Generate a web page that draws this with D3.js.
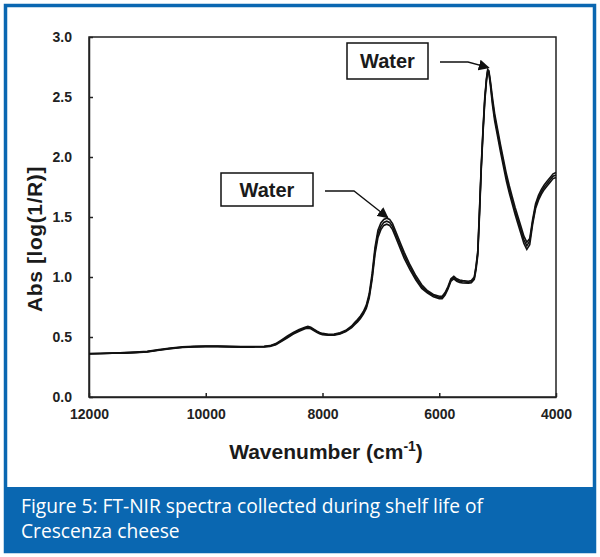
<!DOCTYPE html>
<html><head><meta charset="utf-8">
<script src="https://cdn.jsdelivr.net/npm/d3@7"></script>
<style>html,body{margin:0;padding:0;background:#fff;}svg{display:block;}</style>
</head><body>
<svg id="c" width="600" height="557"></svg>
<script>
const wavenumbers = [12000,11800,11600,11400,11200,11000,10800,10600,10400,10200,10000,9800,9600,9400,9200,9000,
 8900,8800,8700,8600,8500,8400,8300,
 8250,8200,8150,8100,8050,8000,
 7900,7800,7700,7600,7500,
 7450,7400,7350,7300,7250,7200,7150,7100,7050,7000,6950,6900,6850,6800,6750,6700,6650,6600,
 6500,6400,6300,6200,6100,6000,
 5950,5900,5850,5800,5750,5700,5650,5600,
 5500,5450,5400,
 5370,5340,5310,5280,5250,5220,5190,
 5170,5150,
 5120,5090,
 5050,5000,4950,4900,4850,4800,4750,4700,4650,4600,4550,4500,4450,4400,4350,4300,4250,4200,4150,4100,4050,4000];

const spectrumA = [0.36,0.362,0.366,0.368,0.372,0.378,0.392,0.405,0.415,0.42,0.422,0.422,0.42,0.418,0.418,0.42,
 0.425,0.44,0.47,0.5,0.53,0.555,0.575,
 0.58,0.575,0.56,0.545,0.532,0.525,
 0.518,0.52,0.53,0.55,0.585,
 0.61,0.635,0.665,0.7,0.75,0.84,1.0,1.22,1.36,1.42,1.455,1.465,1.455,1.42,1.36,1.3,1.24,1.18,
 1.08,0.99,0.92,0.875,0.845,0.83,
 0.83,0.86,0.91,0.975,0.995,0.975,0.965,0.96,
 0.955,0.96,0.99,
 1.08,1.2,1.55,1.92,2.22,2.48,2.65,
 2.72,2.71,
 2.6,2.47,
 2.33,2.2,2.07,1.95,1.83,1.73,1.64,1.55,1.47,1.39,1.31,1.26,1.3,1.46,1.59,1.66,1.71,1.75,1.78,1.81,1.84,1.85];

const spectrumB = [0.358,0.36,0.364,0.37,0.374,0.38,0.395,0.408,0.418,0.422,0.424,0.424,0.422,0.42,0.42,0.422,
 0.428,0.445,0.476,0.508,0.538,0.562,0.582,
 0.588,0.582,0.566,0.55,0.537,0.53,
 0.523,0.525,0.535,0.556,0.592,
 0.62,0.645,0.675,0.712,0.765,0.86,1.03,1.25,1.39,1.45,1.48,1.49,1.48,1.445,1.385,1.325,1.265,1.205,
 1.1,1.01,0.935,0.885,0.855,0.84,
 0.84,0.87,0.92,0.985,1.005,0.985,0.975,0.97,
 0.965,0.97,1.0,
 1.09,1.22,1.57,1.94,2.24,2.5,2.66,
 2.73,2.72,
 2.62,2.5,
 2.36,2.23,2.1,1.98,1.86,1.76,1.67,1.58,1.5,1.42,1.34,1.29,1.32,1.48,1.61,1.68,1.73,1.77,1.8,1.83,1.86,1.87];

const spectrumC = [0.362,0.364,0.366,0.366,0.37,0.376,0.39,0.402,0.412,0.418,0.42,0.42,0.418,0.416,0.416,0.418,
 0.422,0.436,0.465,0.494,0.524,0.548,0.568,
 0.574,0.568,0.554,0.54,0.528,0.52,
 0.514,0.515,0.525,0.545,0.578,
 0.602,0.626,0.655,0.69,0.738,0.825,0.98,1.19,1.33,1.395,1.43,1.44,1.43,1.395,1.335,1.275,1.215,1.155,
 1.06,0.975,0.905,0.865,0.835,0.82,
 0.82,0.85,0.9,0.965,0.985,0.965,0.955,0.95,
 0.948,0.952,0.98,
 1.06,1.18,1.52,1.9,2.2,2.46,2.64,
 2.71,2.7,
 2.58,2.44,
 2.3,2.17,2.04,1.92,1.8,1.7,1.61,1.52,1.44,1.36,1.28,1.23,1.27,1.44,1.57,1.64,1.69,1.73,1.76,1.79,1.82,1.83];

const spectra = [spectrumA, spectrumB, spectrumC];
const xTicks = [12000,10000,8000,6000,4000];
const yTicks = [0.0,0.5,1.0,1.5,2.0,2.5,3.0];
const annotations = [
  {label:"Water", peakW:5170, peakY:2.72},
  {label:"Water", peakW:6900, peakY:1.47}
];
const xTitle = "Wavenumber (cm";
const yTitle = "Abs [log(1/R)]";
const captionLines = ["Figure 5: FT-NIR spectra collected during shelf life of","Crescenza cheese"];

const svg = d3.select("#c");
const BLUE = "#0a67b1";

// frame
svg.append("rect").attr("x",5.5).attr("y",5.5).attr("width",589).attr("height",546)
  .attr("fill","#fff").attr("stroke",BLUE).attr("stroke-width",3.5);
svg.append("rect").attr("x",4).attr("y",487).attr("width",592).attr("height",66).attr("fill",BLUE);
svg.selectAll("text.cap").data(captionLines).join("text").attr("class","cap")
  .attr("x",21).attr("y",(d,i)=>513+i*25)
  .attr("fill","#fff").style("font-family","'Open Sans', sans-serif").style("font-size","19.2px")
  .text(d=>d);

const L=89,R=556,T=37,B=397;
const x = d3.scaleLinear().domain([12000,4000]).range([L,R]);
const y = d3.scaleLinear().domain([0,3]).range([B,T]);

const font = "'Liberation Sans', Arial, sans-serif";

// plot box
svg.append("rect").attr("x",L).attr("y",T).attr("width",R-L).attr("height",B-T)
  .attr("fill","none").attr("stroke","#222").attr("stroke-width",1.5);

const gx = svg.append("g").attr("transform",`translate(0,${B})`)
  .call(d3.axisBottom(x).tickValues(xTicks).tickSizeInner(-4).tickSizeOuter(0).tickPadding(12).tickFormat(d3.format("d")));
const gy = svg.append("g").attr("transform",`translate(${L},0)`)
  .call(d3.axisLeft(y).tickValues(yTicks).tickSizeInner(-4).tickSizeOuter(0).tickPadding(17).tickFormat(d3.format(".1f")));
[gx,gy].forEach(g=>{
  g.select(".domain").attr("stroke","#222").attr("stroke-width",1.5);
  g.selectAll(".tick line").attr("stroke","#222").attr("stroke-width",1.5);
  g.selectAll(".tick text").attr("fill","#222").style("font-family",font).style("font-size","14px").style("font-weight","bold");
});

// spectra
const line = d3.line().x((d,i)=>x(wavenumbers[i])).y(d=>y(d));
svg.append("g").selectAll("path").data(spectra).join("path")
  .attr("d",line).attr("fill","none").attr("stroke","#111").attr("stroke-width",1.6);

// axis titles
const xt = svg.append("text").attr("x",326).attr("y",459).attr("text-anchor","middle")
  .style("font-family",font).style("font-size","21px").style("font-weight","bold").attr("fill","#1a1a1a");
xt.append("tspan").text(xTitle);
xt.append("tspan").attr("dy",-8).style("font-size","14px").text("-1");
xt.append("tspan").attr("dy",8).text(")");
svg.append("text").attr("transform","translate(42,239) rotate(-90)").attr("text-anchor","middle")
  .style("font-family",font).style("font-size","21px").style("font-weight","bold").attr("fill","#1a1a1a")
  .style("letter-spacing","0.6px")
  .text(yTitle);

// annotations
const boxes = [
  {x0:347,y0:43,w:81,h:36, line:[[440,62],[468,62]]},
  {x0:221,y0:173,w:92,h:33, line:[[325,191],[354,191]]}
];
svg.append("defs").append("marker").attr("id","ah").attr("viewBox","0 0 10 10").attr("refX",9).attr("refY",5)
  .attr("markerWidth",11).attr("markerHeight",11).attr("markerUnits","userSpaceOnUse").attr("orient","auto")
  .append("path").attr("d","M0,0L10,5L0,10Z").attr("fill","#111");
annotations.forEach((a,i)=>{
  const b = boxes[i];
  svg.append("rect").attr("x",b.x0).attr("y",b.y0).attr("width",b.w).attr("height",b.h)
    .attr("fill","#fff").attr("stroke","#111").attr("stroke-width",1.5);
  svg.append("text").attr("x",b.x0+b.w/2).attr("y",b.y0+b.h/2+7).attr("text-anchor","middle")
    .style("font-family",font).style("font-size","20px").style("font-weight","bold").attr("fill","#1a1a1a").text(a.label);
  const tip = [x(a.peakW)+1, y(a.peakY)-3];
  svg.append("path").attr("d",d3.line()([b.line[0],b.line[1],tip])).attr("fill","none")
    .attr("stroke","#111").attr("stroke-width",1.3).attr("marker-end","url(#ah)");
});
</script>
</body></html>
